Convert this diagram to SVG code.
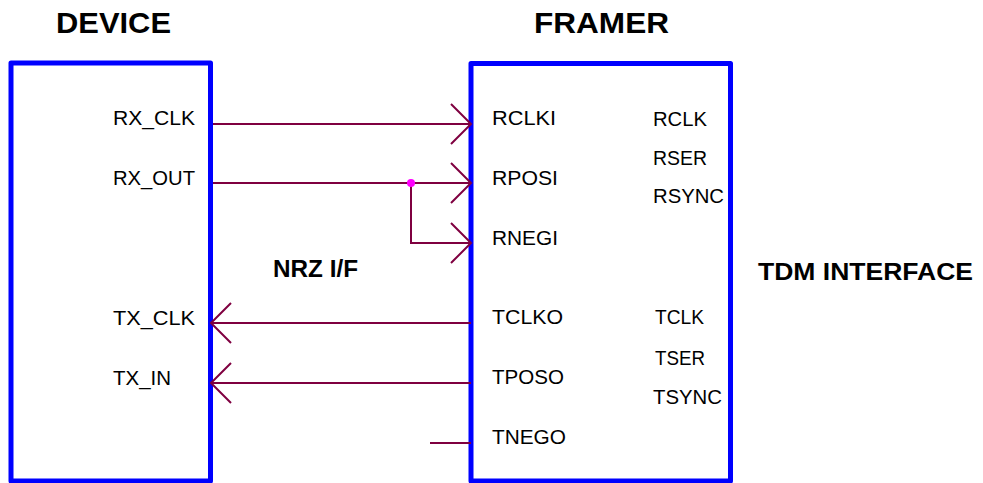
<svg xmlns="http://www.w3.org/2000/svg" width="983" height="483" viewBox="0 0 983 483">
<style>
.box{fill:#fff;stroke:#0000ff;stroke-width:5;stroke-linejoin:round}
.title{font-family:"Liberation Sans",Arial,sans-serif;font-weight:bold;font-size:30px;fill:#000}
.bold{font-family:"Liberation Sans",Arial,sans-serif;font-weight:bold;font-size:24px;fill:#000}
.lbl{font-family:"Liberation Sans",Arial,sans-serif;font-size:20.5px;fill:#000}
.wire{fill:none;stroke:#7f0040;stroke-width:2}
</style>
<rect width="983" height="483" fill="#fff"/>
<g id="device">
<rect class="box" x="11" y="63" width="199.5" height="418"/>
<text class="title" x="56" y="33" textLength="115" lengthAdjust="spacingAndGlyphs">DEVICE</text>
<text class="lbl" x="113" y="125" textLength="82" lengthAdjust="spacingAndGlyphs">RX_CLK</text>
<text class="lbl" x="113" y="185" textLength="82" lengthAdjust="spacingAndGlyphs">RX_OUT</text>
<text class="lbl" x="113" y="325" textLength="82" lengthAdjust="spacingAndGlyphs">TX_CLK</text>
<text class="lbl" x="113" y="385" textLength="58" lengthAdjust="spacingAndGlyphs">TX_IN</text>
</g>
<g id="framer">
<rect class="box" x="471" y="63.5" width="259.5" height="417.5"/>
<text class="title" x="534" y="33" textLength="135" lengthAdjust="spacingAndGlyphs">FRAMER</text>
<text class="lbl" x="492" y="125" textLength="64" lengthAdjust="spacingAndGlyphs">RCLKI</text>
<text class="lbl" x="492" y="185" textLength="66" lengthAdjust="spacingAndGlyphs">RPOSI</text>
<text class="lbl" x="492" y="245" textLength="66" lengthAdjust="spacingAndGlyphs">RNEGI</text>
<text class="lbl" x="492" y="324" textLength="71" lengthAdjust="spacingAndGlyphs">TCLKO</text>
<text class="lbl" x="492" y="384" textLength="72" lengthAdjust="spacingAndGlyphs">TPOSO</text>
<text class="lbl" x="492" y="444" textLength="74" lengthAdjust="spacingAndGlyphs">TNEGO</text>
<text class="lbl" x="653" y="126" textLength="54" lengthAdjust="spacingAndGlyphs">RCLK</text>
<text class="lbl" x="653" y="165" textLength="54" lengthAdjust="spacingAndGlyphs">RSER</text>
<text class="lbl" x="653" y="203" textLength="71" lengthAdjust="spacingAndGlyphs">RSYNC</text>
<text class="lbl" x="655" y="324" textLength="49" lengthAdjust="spacingAndGlyphs">TCLK</text>
<text class="lbl" x="655" y="365" textLength="50" lengthAdjust="spacingAndGlyphs">TSER</text>
<text class="lbl" x="653" y="404" textLength="69" lengthAdjust="spacingAndGlyphs">TSYNC</text>
</g>
<g id="labels">
<text class="bold" x="273" y="277" textLength="85" lengthAdjust="spacingAndGlyphs">NRZ I/F</text>
<text class="bold" x="758" y="280" textLength="215" lengthAdjust="spacingAndGlyphs">TDM INTERFACE</text>
</g>
<g id="connectors">
<path class="wire" d="M213 124H471M451 104L471 124L451 144"/>
<path class="wire" d="M213 183H471M451 163L471 183L451 203"/>
<path class="wire" d="M411 183V243H471M451 223L471 243L451 263"/>
<path class="wire" d="M471 323H211M231 303L211 323L231 343"/>
<path class="wire" d="M471 383H211M231 363L211 383L231 403"/>
<path class="wire" d="M430 443H471"/>
<circle cx="411" cy="183" r="4" fill="#ff00ff"/>
</g>
</svg>
